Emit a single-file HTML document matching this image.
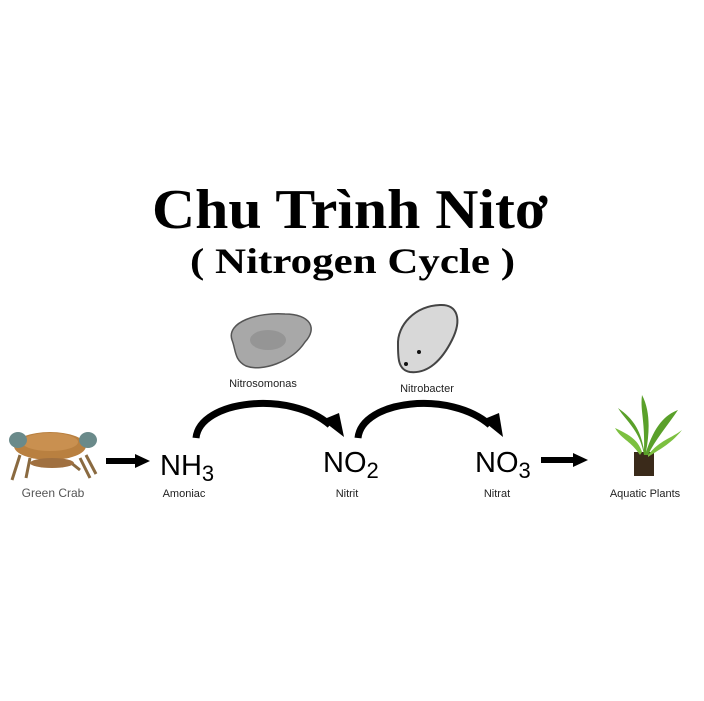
<!DOCTYPE html>
<html><head><meta charset="utf-8"><style>
html,body{margin:0;padding:0;background:#fff;}
svg{display:block;}
</style></head><body>
<svg width="704" height="701" viewBox="0 0 704 701" xmlns="http://www.w3.org/2000/svg">
<rect width="704" height="701" fill="#fff"/>
<text x="152" y="228" font-family="Liberation Serif, serif" font-weight="bold" font-size="56" textLength="396" lengthAdjust="spacingAndGlyphs">Chu Trình Nitơ</text>
<text x="190" y="273" font-family="Liberation Serif, serif" font-weight="bold" font-size="36" textLength="325" lengthAdjust="spacingAndGlyphs">( Nitrogen Cycle )</text>

<!-- bacteria -->
<path d="M232,340 C226,322 258,312 285,314 C310,314 318,328 305,342 C292,362 262,372 246,366 C234,360 236,350 232,340Z" fill="#a8a8a8" stroke="#555" stroke-width="1.5"/>
<ellipse cx="268" cy="340" rx="18" ry="10" fill="#888" opacity="0.6"/>
<path d="M398,345 C397,325 415,306 440,305 C458,304 462,320 452,340 C442,360 428,374 410,372 C398,370 398,358 398,345Z" fill="#d8d8d8" stroke="#444" stroke-width="2"/>
<circle cx="406" cy="364" r="2" fill="#111"/><circle cx="419" cy="352" r="2" fill="#111"/>

<g font-family="Liberation Sans, sans-serif" fill="#222">
<text x="263" y="387" font-size="11" text-anchor="middle">Nitrosomonas</text>
<text x="427" y="392" font-size="11" text-anchor="middle">Nitrobacter</text>
<text x="160" y="475" font-size="29" fill="#000">NH<tspan font-size="22" dy="6">3</tspan></text>
<text x="323" y="472" font-size="29" fill="#000">NO<tspan font-size="22" dy="6">2</tspan></text>
<text x="475" y="472" font-size="29" fill="#000">NO<tspan font-size="22" dy="6">3</tspan></text>
<text x="53" y="497" font-size="12" text-anchor="middle" fill="#555">Green Crab</text>
<text x="184" y="497" font-size="11" text-anchor="middle">Amoniac</text>
<text x="347" y="497" font-size="11" text-anchor="middle">Nitrit</text>
<text x="497" y="497" font-size="11" text-anchor="middle">Nitrat</text>
<text x="645" y="497" font-size="11" text-anchor="middle">Aquatic Plants</text>
</g>

<!-- straight arrows -->
<rect x="106" y="458" width="30" height="6" fill="#000"/><path d="M135,454 L150,461 L135,468Z" fill="#000"/>
<rect x="541" y="457" width="33" height="6" fill="#000"/><path d="M573,453 L588,460 L573,467Z" fill="#000"/>
<!-- curved arrows -->
<path d="M196,438 C200,400 290,390 330,425" fill="none" stroke="#000" stroke-width="7"/>
<path d="M322,420 L344,437 L339,413Z" fill="#000"/>
<path d="M358,438 C362,400 450,390 490,425" fill="none" stroke="#000" stroke-width="7"/>
<path d="M482,420 L503,437 L499,413Z" fill="#000"/>

<!-- crab -->
<ellipse cx="50" cy="446" rx="36" ry="14" fill="#b98040"/>
<ellipse cx="50" cy="442" rx="28" ry="9" fill="#c99050"/>
<ellipse cx="18" cy="440" rx="9" ry="8" fill="#6a8a8a"/>
<ellipse cx="88" cy="440" rx="9" ry="8" fill="#6a8a8a"/>
<path d="M20,455 L12,480 M30,458 L26,478 M80,458 L90,478 M86,455 L96,474 M70,462 L80,470" stroke="#8a6a40" stroke-width="3" fill="none"/>
<ellipse cx="52" cy="463" rx="22" ry="5" fill="#a07040"/>

<!-- plant -->
<rect x="634" y="452" width="20" height="24" fill="#3a2a1a"/>
<path d="M644,455 C640,430 625,420 618,408 C632,418 640,428 644,450 C645,420 640,410 642,395 C650,410 650,430 646,452 C655,425 665,415 678,410 C668,425 655,440 648,455Z" fill="#5aa02a"/>
<path d="M640,455 C630,440 622,440 615,428 C630,435 638,440 642,452 M648,455 C660,440 672,438 682,430 C670,445 658,450 648,457Z" fill="#7cc040"/>
</svg>
</body></html>
